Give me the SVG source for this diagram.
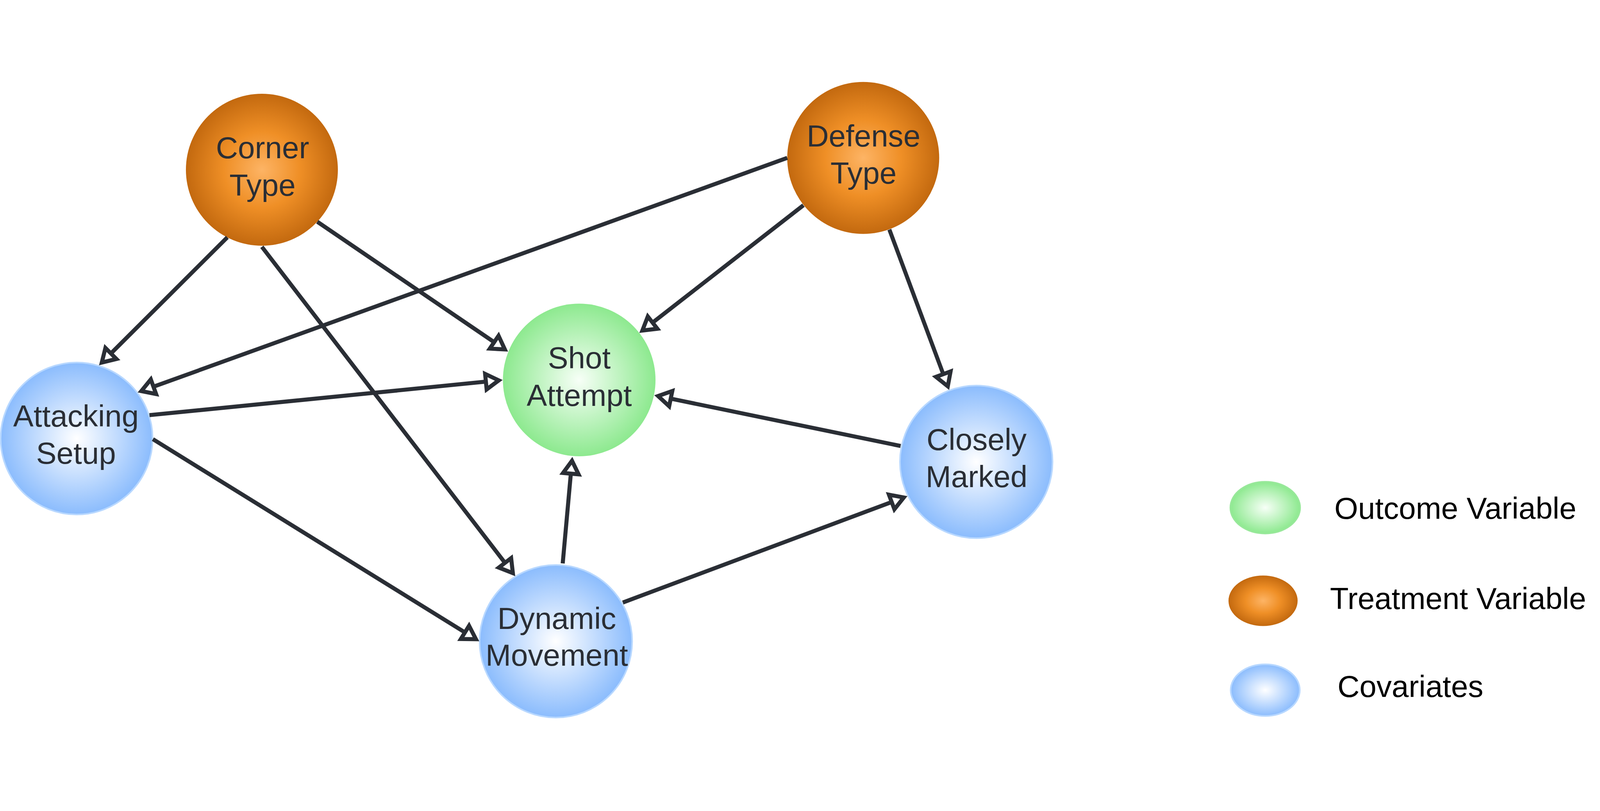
<svg xmlns="http://www.w3.org/2000/svg" width="5138" height="2076" viewBox="0 0 5138 2076">
<style>
svg{max-width:100vw;max-height:100vh}
.lbl{font-family:"Liberation Sans",Arial,sans-serif;font-size:98px;fill:#2a2e35;text-anchor:middle}
.leg{font-family:"Liberation Sans",Arial,sans-serif;font-size:98px;fill:#000}
.edge{stroke:#2a2e35;stroke-width:13;fill:none;marker-end:url(#arr)}
.cov{stroke:#b8d8ff;stroke-width:5}
</style>
<defs>
<radialGradient id="gO" cx="50%" cy="50%" r="50%">
<stop offset="0" stop-color="#fdb465"/>
<stop offset="0.5" stop-color="#ef8f26"/>
<stop offset="1" stop-color="#c3690f"/>
</radialGradient>
<radialGradient id="gG" cx="50%" cy="50%" r="50%">
<stop offset="0" stop-color="#f7fff7"/>
<stop offset="1" stop-color="#8de98f"/>
</radialGradient>
<radialGradient id="gB" cx="50%" cy="50%" r="50%">
<stop offset="0" stop-color="#ffffff"/>
<stop offset="1" stop-color="#8bbcfd"/>
</radialGradient>
<marker id="arr" markerUnits="userSpaceOnUse" markerWidth="120" markerHeight="120" viewBox="-20 -60 120 120" refX="0" refY="0" orient="auto" overflow="visible">
<path d="M0,-25 L41.5,0 L0,25 Z" fill="#fff" stroke="#2a2e35" stroke-width="13" stroke-linejoin="miter"/>
</marker>
</defs>
<rect width="5138" height="2076" fill="#fff"/>

<g id="node-corner-type">
<circle cx="841" cy="281" r="244" fill="url(#gO)"/>
<text class="lbl" x="843" y="244">Corner</text>
<text class="lbl" x="843" y="364">Type</text>
</g>
<g id="node-defense-type">
<circle cx="2772" cy="243" r="244" fill="url(#gO)"/>
<text class="lbl" x="2773" y="206">Defense</text>
<text class="lbl" x="2773" y="326">Type</text>
</g>
<g id="node-shot-attempt">
<circle cx="1860" cy="956" r="245" fill="url(#gG)"/>
<text class="lbl" x="1860" y="919">Shot</text>
<text class="lbl" x="1860" y="1039">Attempt</text>
</g>
<g id="node-attacking-setup">
<circle cx="246" cy="1144" r="244" fill="url(#gB)" class="cov"/>
<text class="lbl" x="244" y="1106">Attacking</text>
<text class="lbl" x="244" y="1225">Setup</text>
</g>
<g id="node-closely-marked">
<circle cx="3135" cy="1219" r="245" fill="url(#gB)" class="cov"/>
<text class="lbl" x="3136" y="1181">Closely</text>
<text class="lbl" x="3136" y="1300">Marked</text>
</g>
<g id="node-dynamic-movement">
<circle cx="1785" cy="1795" r="245" fill="url(#gB)" class="cov"/>
<text class="lbl" x="1788" y="1755">Dynamic</text>
<text class="lbl" x="1788" y="1874">Movement</text>
</g>

<g id="connectors">
<line class="edge" x1="730" y1="498" x2="356.2" y2="870.9"/>
<line class="edge" x1="1019" y1="448" x2="1586.9" y2="834.6"/>
<line class="edge" x1="841" y1="528.6" x2="1621.6" y2="1543.2"/>
<line class="edge" x1="2528" y1="243" x2="492.8" y2="977.7"/>
<line class="edge" x1="2580" y1="395" x2="2095.6" y2="771.8"/>
<line class="edge" x1="2856" y1="473" x2="3029.1" y2="937.4"/>
<line class="edge" x1="480" y1="1069" x2="1560.3" y2="961.4"/>
<line class="edge" x1="491" y1="1146" x2="1493.1" y2="1766.6"/>
<line class="edge" x1="2892" y1="1168" x2="2153.9" y2="1015.9"/>
<line class="edge" x1="1807" y1="1545" x2="1833.1" y2="1256.8"/>
<line class="edge" x1="2000" y1="1670.6" x2="2863.4" y2="1347.9"/>
</g>

<g id="legend">
<g id="legend-outcome">
<ellipse cx="4063" cy="1366" rx="112" ry="83" fill="url(#gG)" stroke="#98e89a" stroke-width="5"/>
<text class="leg" x="4285" y="1402">Outcome Variable</text>
</g>
<g id="legend-treatment">
<ellipse cx="4056" cy="1665" rx="111" ry="81" fill="url(#gO)"/>
<text class="leg" x="4271" y="1692">Treatment Variable</text>
</g>
<g id="legend-covariates">
<ellipse cx="4063" cy="1952" rx="111" ry="83" fill="url(#gB)" class="cov"/>
<text class="leg" x="4295" y="1974">Covariates</text>
</g>
</g>
</svg>
